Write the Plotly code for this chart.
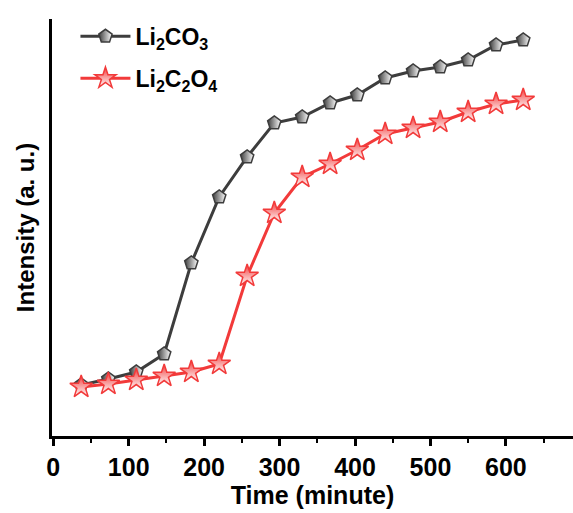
import plotly.graph_objects as go

time_min = [37, 73, 110, 147, 183, 220, 257, 293, 330, 367, 403, 440, 477, 513, 550, 587, 623]
li2co3 = [51, 57, 64, 82, 173, 239, 279, 313, 319, 333, 341, 358, 365, 369, 376, 391, 396]
li2c2o4 = [49, 52, 56, 60, 64, 72, 160, 223, 259, 272, 286, 302, 308, 314, 324, 332, 336]
x_ticks = [0, 100, 200, 300, 400, 500, 600]

FONT = "Arial, 'Liberation Sans', sans-serif"
GREY = "#3d3d3d"
RED = "#f23a3a"

fig = go.Figure()
fig.add_trace(go.Scatter(
    x=time_min, y=li2co3, mode="lines+markers",
    name="<b>Li<sub>2</sub>CO<sub>3</sub></b>", legendgroup="a",
    line=dict(color=GREY, width=3),
    marker=dict(symbol="pentagon", size=14, color=GREY,
                gradient=dict(type="horizontal", color="white"),
                line=dict(color=GREY, width=1.5)),
))
fig.add_trace(go.Scatter(
    x=time_min, y=li2c2o4, mode="lines+markers",
    name="<b>Li<sub>2</sub>C<sub>2</sub>O<sub>4</sub></b>", legendgroup="b",
    line=dict(color=RED, width=3),
    marker=dict(symbol="star", size=17, color=RED,
                gradient=dict(type="vertical", color="white"),
                line=dict(color=RED, width=1.5)),
))

fig.update_layout(
    width=573, height=513,
    margin=dict(l=52, r=0, t=19, b=77),
    paper_bgcolor="white", plot_bgcolor="white",
    font=dict(family=FONT, color="black"),
    showlegend=True,
    legend=dict(x=0.045, y=1.01, xanchor="left", yanchor="top",
                bgcolor="rgba(0,0,0,0)", borderwidth=0,
                font=dict(family=FONT, size=23, color="black"),
                tracegroupgap=9, traceorder="grouped", itemwidth=50),
)
fig.update_xaxes(
    range=[-1.7, 689], showgrid=False, zeroline=False,
    showline=True, linecolor="black", linewidth=2.5,
    ticks="outside", ticklen=7, tickwidth=2.5, tickcolor="black",
    tickvals=x_ticks, ticktext=[f"<b>{v}</b>" for v in x_ticks],
    tickfont=dict(family=FONT, size=25, color="black"),
    minor=dict(dtick=50, tick0=0, ticks="outside", ticklen=4, tickwidth=2, tickcolor="black"),
    title=dict(text="<b>Time (minute)</b>", font=dict(family=FONT, size=25, color="black"), standoff=4),
)
fig.update_yaxes(
    range=[0, 417], showgrid=False, zeroline=False,
    showline=True, linecolor="black", linewidth=2.5,
    showticklabels=False, ticks="",
    title=dict(text="<b>Intensity (a. u.)</b>", font=dict(family=FONT, size=24, color="black"), standoff=8),
)

fig.write_html("out.html")
